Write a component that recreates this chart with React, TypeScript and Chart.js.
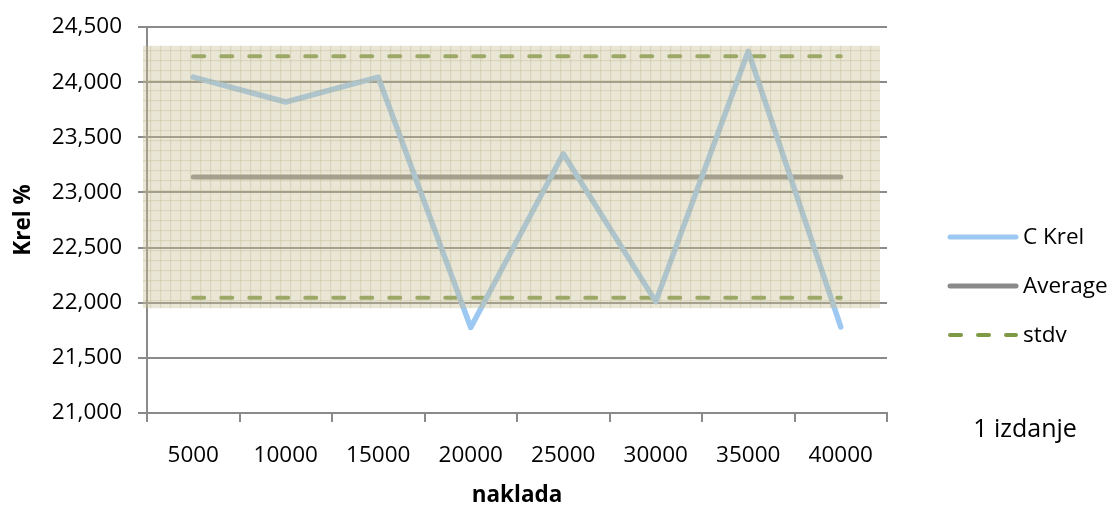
import React, { useEffect, useRef } from "react";
import { Chart, registerables } from "chart.js";

Chart.register(...registerables);

const categories = ["5000", "10000", "15000", "20000", "25000", "30000", "35000", "40000"];
const cKrel = [24045, 23820, 24045, 21775, 23350, 22010, 24280, 21780];
const average = [23140, 23140, 23140, 23140, 23140, 23140, 23140, 23140];
const stdvUpper = [24235, 24235, 24235, 24235, 24235, 24235, 24235, 24235];
const stdvLower = [22045, 22045, 22045, 22045, 22045, 22045, 22045, 22045];
const yMin = 21000;
const yMax = 24500;
const yStep = 500;
const shadeTop = 24330;
const shadeBottom = 21950;
const legendLabels = ["C Krel", "Average", "stdv"];
const noteText = "1 izdanje";
const xTitle = "naklada";
const yTitle = "Krel %";

const FONT = "'Open Sans', 'Noto Sans', sans-serif";
const FS = 22.5;
const BLUE = "#9dc8f2";
const GRAY = "#8a8a8a";
const GREEN = "#7f9a45";

function makePattern(): CanvasPattern | string {
  const c = document.createElement("canvas");
  c.width = 10;
  c.height = 10;
  const g = c.getContext("2d");
  if (!g) return "rgba(192,184,142,0.4)";
  g.fillStyle = "rgba(200,192,152,0.40)";
  g.fillRect(0, 0, 10, 10);
  g.fillStyle = "rgba(175,165,115,0.25)";
  g.fillRect(0, 0, 10, 1.2);
  g.fillRect(0, 0, 1.2, 10);
  const p = g.createPattern(c, "repeat");
  return p || "rgba(192,184,142,0.4)";
}

export default function App() {
  const ref = useRef<HTMLCanvasElement | null>(null);

  useEffect(() => {
    document.body.style.margin = "0";
    const canvas = ref.current;
    if (!canvas) return;
    const pattern = makePattern();

    const shadePlugin = {
      id: "shade",
      afterDatasetsDraw(chart: any) {
        const { ctx, chartArea, scales } = chart;
        const y = scales.y;
        const top = y.getPixelForValue(shadeTop);
        const bottom = y.getPixelForValue(shadeBottom);
        const left = chartArea.left - 4;
        const right = chartArea.right - 7;
        ctx.save();
        ctx.fillStyle = pattern as any;
        ctx.fillRect(left, top, right - left, bottom - top);
        ctx.restore();
      },
    };

    const legendPlugin = {
      id: "customLegend",
      afterDraw(chart: any) {
        const { ctx } = chart;
        ctx.save();
        const x0 = 948;
        const x1 = 1018;
        const rows = [237, 286, 335];
        const styles = [
          { color: BLUE, width: 5, dash: [] as number[] },
          { color: GRAY, width: 5, dash: [] as number[] },
          { color: GREEN, width: 4, dash: [11, 17] },
        ];
        ctx.font = `${FS}px ${FONT}`;
        ctx.textBaseline = "middle";
        ctx.textAlign = "left";
        rows.forEach((yy, i) => {
          const s = styles[i];
          ctx.beginPath();
          ctx.lineCap = "round";
          ctx.strokeStyle = s.color;
          ctx.lineWidth = s.width;
          ctx.setLineDash(s.dash);
          ctx.moveTo(x0 + 2, yy);
          ctx.lineTo(x1 - 2, yy);
          ctx.stroke();
          ctx.setLineDash([]);
          ctx.fillStyle = "#000";
          ctx.fillText(legendLabels[i], 1023, yy + 1);
        });
        ctx.font = `25px ${FONT}`;
        ctx.textAlign = "center";
        ctx.fillText(noteText, 1025, 430);
        ctx.restore();
      },
    };

    const chart = new Chart(canvas, {
      type: "line",
      data: {
        labels: categories,
        datasets: [
          {
            label: "C Krel",
            data: cKrel,
            borderColor: BLUE,
            borderWidth: 5.5,
            pointRadius: 0,
            tension: 0,
            borderCapStyle: "round",
            borderJoinStyle: "round",
          },
          {
            label: "Average",
            data: average,
            borderColor: GRAY,
            borderWidth: 5,
            pointRadius: 0,
            borderCapStyle: "round",
          },
          {
            label: "stdv",
            data: stdvUpper,
            borderColor: GREEN,
            borderWidth: 4,
            borderDash: [11, 17],
            borderCapStyle: "round",
            pointRadius: 0,
          },
          {
            label: "stdv ",
            data: stdvLower,
            borderColor: GREEN,
            borderWidth: 4,
            borderDash: [11, 17],
            borderCapStyle: "round",
            pointRadius: 0,
          },
        ],
      },
      options: {
        animation: false,
        responsive: true,
        maintainAspectRatio: false,
        layout: { padding: { top: 27, right: 228, left: 0, bottom: 0 } },
        plugins: {
          legend: { display: false },
          tooltip: { enabled: false },
        },
        scales: {
          x: {
            type: "category",
            offset: true,
            grid: {
              display: true,
              offset: true,
              drawOnChartArea: false,
              drawTicks: true,
              tickLength: 9,
              color: "#8a8a8a",
              lineWidth: 2,
            },
            border: { display: true, color: "#8a8a8a", width: 2 },
            ticks: {
              color: "#000",
              font: { family: FONT, size: FS },
              padding: 20,
              maxRotation: 0,
              autoSkip: false,
            },
            title: {
              display: true,
              text: xTitle,
              color: "#000",
              font: { family: FONT, size: FS, weight: "bold" },
              padding: { top: 0, bottom: 0 },
            },
            afterFit(scale: any) {
              scale.height = 96;
            },
          },
          y: {
            min: yMin,
            max: yMax,
            grid: {
              color: "#8a8a8a",
              lineWidth: 2,
              tickLength: 9,
              drawTicks: true,
            },
            border: { display: true, color: "#8a8a8a", width: 2 },
            ticks: {
              stepSize: yStep,
              color: "#000",
              font: { family: FONT, size: FS },
              padding: 16,
              callback: (v: any) => Number(v).toLocaleString("en-US"),
            },
            title: {
              display: true,
              text: yTitle,
              color: "#000",
              font: { family: FONT, size: FS, weight: "bold" },
              padding: { top: 10, bottom: 0 },
            },
            afterFit(scale: any) {
              scale.width = 147;
              scale.paddingTop = 0;
              scale.paddingBottom = 0;
            },
          },
        },
      },
      plugins: [shadePlugin, legendPlugin],
    });

    return () => chart.destroy();
  }, []);

  return (
    <div style={{ position: "absolute", left: 0, top: 0, width: 1115, height: 509 }}>
      <canvas ref={ref} />
    </div>
  );
}
